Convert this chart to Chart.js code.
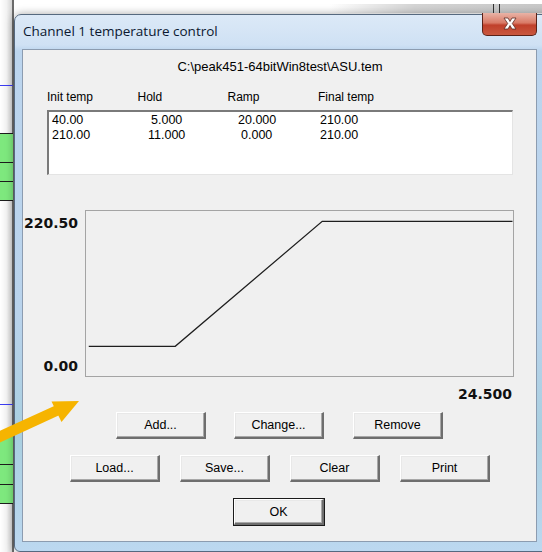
<!DOCTYPE html>
<html>
<head>
<meta charset="utf-8">
<script src="https://cdn.jsdelivr.net/npm/chart.js@4/dist/chart.umd.min.js"></script>
<style>
  html, body { margin: 0; padding: 0; }
  body { width: 542px; height: 552px; position: relative; overflow: hidden; background: #ffffff;
         font-family: "Liberation Sans", Arial, sans-serif; font-size: 12px; color: #000; }
  .abs { position: absolute; }
  .bgstrip { left: 0; top: 0; width: 13px; height: 552px;
             background: linear-gradient(to right, #ffffff 0%, #f2f2f2 50%, #cfcfcf 100%); }
  .bgedge { left: 12px; top: 0; width: 2px; height: 552px; background: #6b6b6b; }
  .green { left: 0; width: 13px; background: #7ee87e; border-top: 1px solid #1c1c1c; }
  .topbar { left: 330px; top: 4px; width: 212px; height: 9px;
            background: linear-gradient(to right, rgba(200,200,200,0), #d4d4d4 40%, #c8c8c8); }
  .dialog { left: 14px; top: 14px; width: 540px; height: 538px; box-sizing: border-box;
            border: 1px solid #56697f; border-radius: 7px 7px 0 6px;
            background: linear-gradient(to bottom, #dce9f7 0px, #cfe1f4 30px, #bcd5ee 36px, #b9d3ec 300px, #a9cfe0 420px, #bcd8f0 100%);
            box-shadow: 0 0 8px rgba(0,0,0,0.35); }
  .title { left: 23px; top: 22px; font-family: "Open Sans", "Noto Sans", sans-serif; font-size: 13.5px;
           line-height: 18px; color: #0b1830; white-space: nowrap; }
  .close { left: 482px; top: 13px; width: 55px; height: 23px; box-sizing: border-box;
           border: 1px solid #5a2218; border-top: none; border-radius: 0 0 5px 5px;
           background: linear-gradient(to bottom, #e9b3a6 0%, #d97a66 45%, #c0402b 55%, #c9583f 100%); }
  .client { left: 22px; top: 49px; width: 515px; height: 493px; box-sizing: border-box;
            background: #f0f0f0; border: 1px solid #8c9cb0; }
  .txt { white-space: nowrap; line-height: 14px; }
  .list { left: 47px; top: 110px; width: 466px; height: 65px; box-sizing: border-box; background: #fff;
          border-top: 2px solid #7a7a7a; border-left: 2px solid #7a7a7a;
          border-right: 1px solid #e4e4e4; border-bottom: 1px solid #e4e4e4; }
  .plotbox { left: 85px; top: 210px; width: 429px; height: 167px; box-sizing: border-box;
             border: 1px solid #a4a4a4; background: #f0f0f0; }
  .axlab { font-family: "DejaVu Sans", sans-serif; font-weight: bold; font-size: 14px; line-height: 16px;
           white-space: nowrap; text-align: right; color: #111; }
  .btn { box-sizing: border-box; width: 90px; height: 27px; background: #f0f0f0;
         border-top: 1px solid #ffffff; border-left: 1px solid #ffffff;
         border-right: 2px solid #6e6e6e; border-bottom: 2px solid #6e6e6e;
         box-shadow: inset -1px -1px 0 #a8a8a8, inset 1px 1px 0 #e8e8e8;
         text-align: center; line-height: 24px; font-size: 12.5px; }
  .btn.def { outline: 1px solid #1a1a1a; }
</style>
</head>
<body>
<!-- background application peeking out on the left -->
<div class="abs bgstrip"></div>
<div class="abs bgedge"></div>
<div class="abs" style="left:0;top:85px;width:13px;height:1px;background:#3c3cf0"></div>
<div class="abs green" style="top:133px;height:29px"></div>
<div class="abs green" style="top:162px;height:19px"></div>
<div class="abs green" style="top:181px;height:19px"></div>
<div class="abs" style="left:0;top:200px;width:13px;height:1px;background:#1c1c1c"></div>
<div class="abs" style="left:0;top:404px;width:13px;height:1px;background:#3c3cf0"></div>
<div class="abs green" style="top:435px;height:29px"></div>
<div class="abs green" style="top:464px;height:20px"></div>
<div class="abs green" style="top:484px;height:19px"></div>
<div class="abs" style="left:0;top:503px;width:13px;height:1px;background:#1c1c1c"></div>
<div class="abs topbar"></div>
<div class="abs" style="left:493px;top:4px;width:1px;height:10px;background:#333"></div>
<div class="abs" style="left:499px;top:4px;width:1px;height:10px;background:#333"></div>

<!-- dialog -->
<div class="abs dialog"></div>
<div class="abs title" id="title"></div>
<div class="abs close">
  <svg width="53" height="22" style="position:absolute;left:0;top:0">
    <path d="M21 5 L25 5 L27 8.5 L29 5 L33 5 L29.3 10.5 L33 16 L29 16 L27 12.5 L25 16 L21 16 L24.7 10.5 Z"
          fill="#ffffff" stroke="#5b2a22" stroke-width="0.8"/>
  </svg>
</div>
<div class="abs client"></div>
<div class="abs txt" id="path" style="left:0;width:560px;top:60px;text-align:center;font-size:13px"></div>
<div id="headers"></div>
<div class="abs list"></div>
<div id="rows"></div>

<div class="abs plotbox">
  <canvas id="profile" width="427" height="165" style="display:block"></canvas>
</div>
<div class="abs axlab" id="ymax" style="left:0;width:78px;top:215px"></div>
<div class="abs axlab" id="ymin" style="left:0;width:78px;top:358px"></div>
<div class="abs axlab" id="xmax" style="left:400px;width:112px;top:386px"></div>

<div id="buttons"></div>

<!-- orange annotation arrow -->
<svg class="abs" width="542" height="552" style="left:0;top:0;pointer-events:none">
  <line x1="-3" y1="438" x2="58" y2="410" stroke="#f6b400" stroke-width="10.5"/>
  <polygon points="79,401 51.5,401.5 61.5,422" fill="#f6b400"/>
</svg>

<script>
const dialogTitle = 'Channel 1 temperature control';
const filePath = 'C:\\peak451-64bitWin8test\\ASU.tem';
const tableHeaders = ['Init temp', 'Hold', 'Ramp', 'Final temp'];
const initTemps = ['40.00', '210.00'];
const holdTimes = ['5.000', '11.000'];
const rampRates = ['20.000', '0.000'];
const finalTemps = ['210.00', '210.00'];

// temperature program (minutes, degrees)
const profileTimes = [0, 5, 13.5, 24.5];
const profileTemps = [40, 40, 210, 210];
const yTickLabels = ['220.50', '0.00'];
const xEndLabel = '24.500';

const buttonLabels = ['Add...', 'Change...', 'Remove', 'Load...', 'Save...', 'Clear', 'Print', 'OK'];

// layout
const headerX = [47, 137.5, 227.5, 318];
const rowX = [[52, 151, 238, 320], [52, 148, 241, 320]];
const rowY = [113, 128];
const buttonPos = [[116, 412], [234, 412], [353, 412], [70, 455], [180, 455], [290, 455], [400, 455], [234, 499]];

document.getElementById('title').textContent = dialogTitle;
document.getElementById('path').textContent = filePath;
document.getElementById('ymax').textContent = yTickLabels[0];
document.getElementById('ymin').textContent = yTickLabels[1];
document.getElementById('xmax').textContent = xEndLabel;

const hdr = document.getElementById('headers');
tableHeaders.forEach((h, i) => {
    const d = document.createElement('div');
    d.className = 'abs txt';
    d.style.left = headerX[i] + 'px';
    d.style.top = '90px';
    d.textContent = h;
    hdr.appendChild(d);
});

const rows = document.getElementById('rows');
initTemps.forEach((v, r) => {
    const cells = [initTemps[r], holdTimes[r], rampRates[r], finalTemps[r]];
    cells.forEach((c, i) => {
        const d = document.createElement('div');
        d.className = 'abs txt';
        d.style.left = rowX[r][i] + 'px';
        d.style.top = rowY[r] + 'px';
        d.style.fontSize = '12.5px';
        d.textContent = c;
        rows.appendChild(d);
    });
});

const btns = document.getElementById('buttons');
buttonLabels.forEach((b, i) => {
    const d = document.createElement('div');
    d.className = 'abs btn' + (b === 'OK' ? ' def' : '');
    d.style.left = buttonPos[i][0] + 'px';
    d.style.top = buttonPos[i][1] + 'px';
    if (b === 'OK') d.style.height = '26px';
    d.textContent = b;
    btns.appendChild(d);
});

const points = profileTimes.map((t, i) => ({ x: t, y: profileTemps[i] }));

new Chart(document.getElementById('profile').getContext('2d'), {
    type: 'line',
    data: {
        datasets: [{
            data: points,
            borderColor: '#1e1e1e',
            borderWidth: 1.3,
            pointRadius: 0,
            tension: 0,
            fill: false
        }]
    },
    options: {
        responsive: false,
        animation: false,
        layout: { padding: 0 },
        plugins: { legend: { display: false }, tooltip: { enabled: false } },
        scales: {
            x: { type: 'linear', display: false, min: -0.16, max: 24.53 },
            y: { display: false, min: -0.3, max: 224 }
        }
    }
});
</script>
</body>
</html>
